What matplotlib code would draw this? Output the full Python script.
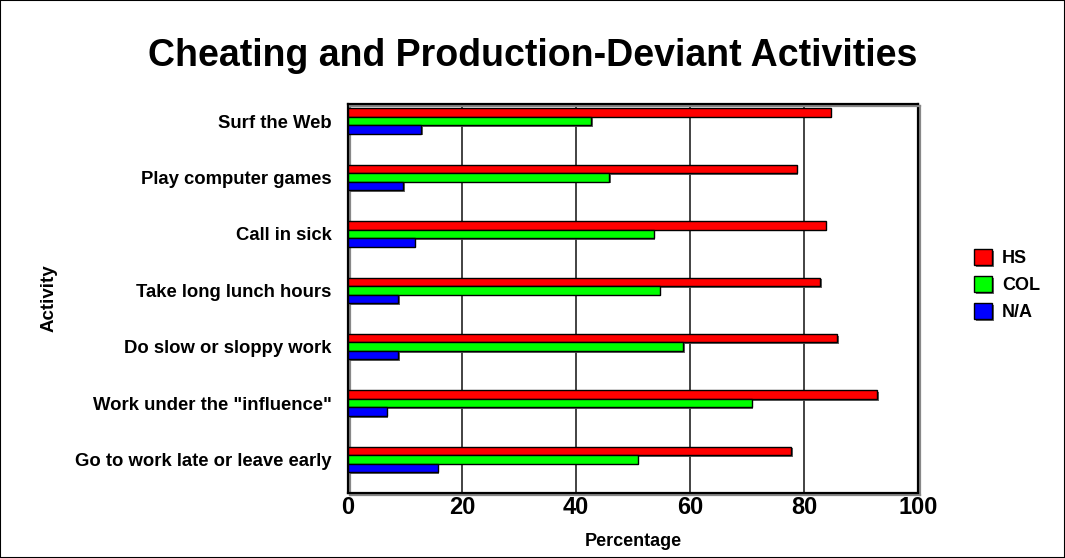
import numpy as np
import matplotlib
matplotlib.use('Agg')
import matplotlib.pyplot as plt
import matplotlib.patheffects as pe
from matplotlib.patches import Rectangle

plt.rcParams['font.family'] = ['Liberation Sans', 'DejaVu Sans']

# Dati
activities = ['Surf the Web', 'Play computer games', 'Call in sick',
              'Take long lunch hours', 'Do slow or sloppy work',
              'Work under the "influence"', 'Go to work late or leave early']
hs = [84.7, 78.7, 83.8, 82.8, 85.8, 92.8, 77.8]
col = [42.7, 45.8, 53.6, 54.7, 58.8, 70.8, 50.8]
na = [12.8, 9.7, 11.7, 8.8, 8.8, 6.8, 15.7]
series_names = ['HS', 'COL', 'N/A']
series_colors = ['#FF0000', '#00FF00', '#0000FF']
xticks = [0, 20, 40, 60, 80, 100]

fig = plt.figure(figsize=(10.65, 5.58), dpi=100)
ax = fig.add_axes([0.3268, 0.1172, 0.5352, 0.6964])

y = np.arange(len(activities))
h = 0.151
shadow = [pe.SimplePatchShadow(offset=(1.2, -1.2), shadow_rgbFace='#555555', alpha=0.9), pe.Normal()]
for i, (vals, name, c) in enumerate(zip([hs, col, na], series_names, series_colors)):
    bars = ax.barh(y + (i - 1) * h, vals, height=h, color=c, edgecolor='black',
                   linewidth=1.0, label=name, zorder=3)
    for b in bars:
        b.set_path_effects(shadow)

ax.set_xlim(0, 100)
ax.set_ylim(6.586, -0.302)
ax.set_xticks(xticks)
ax.set_xticklabels([str(t) for t in xticks], fontsize=17, fontweight='bold')
ax.set_yticks(y)
ax.set_yticklabels(activities, fontsize=13.3, fontweight='bold')
ax.tick_params(axis='both', length=0)
ax.tick_params(axis='x', pad=2.5)
ax.tick_params(axis='y', pad=12)

for g in xticks[1:-1]:
    ax.axvline(g, color='#222222', linewidth=1.2, zorder=1)

for s in ax.spines.values():
    s.set_linewidth(1.6)
    s.set_color('black')
    s.set_path_effects([pe.SimpleLineShadow(offset=(1.5, -1.5), shadow_color='#888888', alpha=1), pe.Normal()])

ax.set_xlabel('Percentage', fontsize=13, fontweight='bold', labelpad=10)
ax.set_ylabel('Activity', fontsize=13.5, fontweight='bold', labelpad=0)
ax.yaxis.set_label_coords(-0.51, 0.5)

fig.text(0.5, 0.9, 'Cheating and Production-Deviant Activities', ha='center', va='center',
         fontsize=27, fontweight='bold')

fig.legend(loc='center left', bbox_to_anchor=(0.9146, 0.4884), frameon=False,
           prop={'weight': 'bold', 'size': 13}, handlelength=1.0, handleheight=0.95,
           handletextpad=0.55, labelspacing=0.5, borderpad=0, borderaxespad=0)

fig.patches.append(Rectangle((0, 0), 1, 1, transform=fig.transFigure, fill=False,
                             edgecolor='black', linewidth=1.5))

fig.savefig('out.png', dpi=100)
